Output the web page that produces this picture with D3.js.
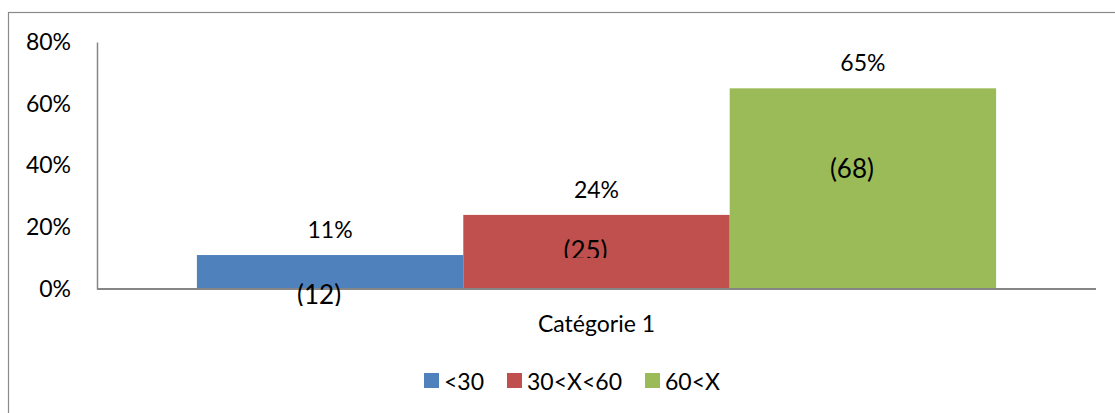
<!DOCTYPE html>
<html>
<head>
<meta charset="utf-8">
<script src="https://cdn.jsdelivr.net/npm/d3@7"></script>
<style>
  html, body { margin: 0; padding: 0; background: #fff; }
  svg { display: block; font-family: Lato, "Open Sans", sans-serif; }
</style>
</head>
<body>
<svg id="chart" width="1115" height="413"></svg>
<script>
// Data
const categories = ["Catégorie 1"];
const series = ["<30", "30<X<60", "60<X"];
const percents = [11, 24, 65];
const counts = [12, 25, 68];
const yTicks = [0, 20, 40, 60, 80];
const colors = ["#4F81BD", "#C0504D", "#9BBB59"];

// Manual nudges for the count labels (pixels, relative to bar middle)
const countDy = [22, -2, -21];
// Visible height of each count label below its centre (some are clipped)
const countClip = [12, 8, 40];

const FS = 23;

const svg = d3.select("#chart");
const W = 1115, H = 413;

// Outer chart frame (only left and top edges fall inside the view)
svg.append("rect")
  .attr("x", 8.5).attr("y", 12.5)
  .attr("width", W + 20).attr("height", H + 20)
  .attr("fill", "none").attr("stroke", "#8a8a8a").attr("stroke-width", 1.2);

const plot = { left: 97, right: 1096, top: 42, bottom: 289 };

const y = d3.scaleLinear().domain([0, 80]).range([plot.bottom, plot.top]);
const x0 = d3.scaleBand().domain(categories)
  .range([plot.left, plot.right]).paddingInner(0).paddingOuter(0.125);
const x1 = d3.scaleBand().domain(series).range([0, x0.bandwidth()]).padding(0);

// Y axis
const yAxis = d3.axisLeft(y).tickValues(yTicks).tickFormat(d => d + "%").tickSize(0).tickPadding(26);
const gy = svg.append("g").attr("transform", `translate(${plot.left},0)`).call(yAxis);
gy.select(".domain").attr("stroke", "#868686").attr("stroke-width", 1.5);
gy.selectAll("text").attr("font-size", FS).attr("fill", "#000").attr("font-family", "Lato, sans-serif");

// Bars
const g = svg.append("g").attr("transform", `translate(${x0(categories[0])},0)`);
const rows = series.map((s, i) => ({ s, p: percents[i], n: counts[i], c: colors[i], i }));

g.selectAll("rect.bar").data(rows).join("rect")
  .attr("class", "bar")
  .attr("x", d => x1(d.s))
  .attr("y", d => y(d.p))
  .attr("width", x1.bandwidth())
  .attr("height", d => y(0) - y(d.p))
  .attr("fill", d => d.c);

// X axis line
svg.append("line")
  .attr("x1", plot.left).attr("x2", plot.right)
  .attr("y1", y(0)).attr("y2", y(0))
  .attr("stroke", "#868686").attr("stroke-width", 2);

// Percent labels above bars
g.selectAll("text.pct").data(rows).join("text")
  .attr("class", "pct")
  .attr("x", d => x1(d.s) + x1.bandwidth() / 2)
  .attr("y", d => y(d.p) - 26)
  .attr("text-anchor", "middle")
  .attr("dominant-baseline", "central")
  .attr("font-size", FS)
  .text(d => d.p + "%");

// Count labels, clipped like the original layout
const defs = svg.append("defs");
rows.forEach(d => {
  const cx = x0(categories[0]) + x1(d.s) + x1.bandwidth() / 2 - 11;
  const cy = (y(d.p) + y(0)) / 2 + countDy[d.i];
  d.cx = cx; d.cy = cy;
  defs.append("clipPath").attr("id", "clip" + d.i)
    .append("rect")
    .attr("x", cx - 60).attr("y", cy - 30)
    .attr("width", 120).attr("height", 30 + countClip[d.i]);
});
svg.selectAll("text.cnt").data(rows).join("text")
  .attr("class", "cnt")
  .attr("clip-path", d => `url(#clip${d.i})`)
  .attr("x", d => d.cx)
  .attr("y", d => d.cy)
  .attr("text-anchor", "middle")
  .attr("dominant-baseline", "central")
  .attr("font-size", 26)
  .text(d => "(" + d.n + ")");

// Category label
svg.append("text")
  .attr("x", x0(categories[0]) + x0.bandwidth() / 2)
  .attr("y", 323)
  .attr("text-anchor", "middle")
  .attr("dominant-baseline", "central")
  .attr("font-size", FS)
  .text(categories[0]);

// Legend
const legendX = [424, 507, 645];
const lg = svg.append("g");
rows.forEach(d => {
  lg.append("rect")
    .attr("x", legendX[d.i]).attr("y", 373)
    .attr("width", 15).attr("height", 15)
    .attr("fill", d.c);
  lg.append("text")
    .attr("x", legendX[d.i] + 20).attr("y", 381)
    .attr("dominant-baseline", "central")
    .attr("font-size", FS)
    .text(d.s);
});
</script>
</body>
</html>
